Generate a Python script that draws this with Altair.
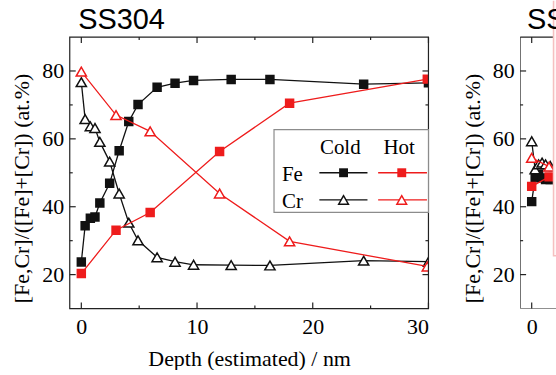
import altair as alt
import pandas as pd

# ---------------- data: SS304 panel ----------------
cold_depth = [0, 0.33, 0.78, 1.18, 1.6, 2.45, 3.27, 4.1, 4.9, 6.55, 8.1, 9.7, 12.95, 16.3, 24.4, 30.0]
cold_fe = [23.7, 34.4, 36.6, 37.0, 41.1, 46.9, 56.5, 65.1, 70.1, 75.2, 76.4, 77.2, 77.5, 77.5, 76.1, 76.5]
cold_cr = [76.7, 65.8, 63.7, 63.2, 59.1, 53.3, 43.9, 35.3, 30.1, 25.1, 23.8, 22.9, 22.8, 22.7, 24.1, 23.8]

hot_depth = [0, 3.0, 5.95, 11.95, 18.0, 29.9]
hot_fe = [20.3, 33.1, 38.3, 56.3, 70.5, 77.6]
hot_cr = [79.8, 67.0, 62.2, 43.9, 29.8, 22.4]

# ---------------- data: second panel (only its left edge is visible) ----------------
p2_cold_depth = [0, 0.3, 0.6, 0.9, 1.2, 1.6, 2.0]
p2_cold_fe = [41.5, 48.5, 49.5, 48.5, 48.0, 48.0, 48.0]
p2_cold_cr = [59.3, 51.0, 52.5, 53.0, 52.5, 52.0, 52.0]
p2_hot_depth = [0, 1.5, 3.0]
p2_hot_fe = [46.0, 48.8, 49.0]
p2_hot_cr = [54.4, 51.8, 51.0]

# ---------------- ticks / labels ----------------
x_major = [0, 10, 20, 30]
x_minor = [5, 15, 25]
y_major = [20, 40, 60, 80]
y_minor = [30, 50, 70]
y_title = "[Fe,Cr]/([Fe]+[Cr]) (at.%)"
x_title = "Depth (estimated) / nm"

T = 36.5          # frame top (px) inside each panel
HP = 309          # panel height (frame bottom)
W1 = 360          # SS304 frame width
W2 = 36           # visible part of second panel
PPU = (HP - T) / 80.0
YTOP = 90 + T / PPU

SERIF = "Liberation Serif"
SANS = "Liberation Sans"
RED = "#ee1c1c"
BLACK = "#111111"
FRAME = "#222222"

yscale = alt.Scale(domain=[10, YTOP], nice=False, zero=False)


def make_x_axis(values, title):
    kw = dict(values=values, format="d", grid=False, domain=False, tickSize=0, labelPadding=8,
              titlePadding=11, labelFont=SERIF, titleFont=SERIF, labelFontSize=22, titleFontSize=22,
              titleFontWeight="normal", labelColor="black", titleColor="black")
    kw["title"] = title
    return alt.Axis(**kw)


y_axis = alt.Axis(values=y_major, format="d", title=y_title, grid=False, domain=False, tickSize=0,
                  labelPadding=6, titlePadding=8, titleY=188, labelFont=SERIF, titleFont=SERIF,
                  labelFontSize=22, titleFontSize=22, titleFontWeight="normal",
                  labelColor="black", titleColor="black")

one = pd.DataFrame({"a": [1]})


def panel(xdom, xvals, xtitle, width, series_list, right_frame, extra_front, title_text, title_dx):
    xscale = alt.Scale(domain=xdom, nice=False, zero=False)
    x_axis = make_x_axis(xvals, xtitle)

    def X(field):
        return alt.X(f"{field}:Q", scale=xscale, axis=x_axis)

    def Y(field):
        return alt.Y(f"{field}:Q", scale=yscale, axis=y_axis)

    layers = []
    # data series
    for depth, values, color, kind in series_list:
        df = pd.DataFrame({"depth": depth, "value": values})
        layers.append(alt.Chart(df).mark_line(color=color, strokeWidth=1.3, clip=True).encode(
            x=X("depth"), y=Y("value")))
        if kind == "square":
            layers.append(alt.Chart(df).mark_point(shape="square", filled=True, color=color, size=90,
                                                   opacity=1, clip=True).encode(x=X("depth"), y=Y("value")))
        else:
            layers.append(alt.Chart(df).mark_point(shape="triangle-up", filled=True, fill="white",
                                                   stroke=color, strokeWidth=1.5, size=105, opacity=1,
                                                   clip=True).encode(x=X("depth"), y=Y("value")))
    # frame
    if right_frame:
        layers.append(alt.Chart(one).mark_rect(fill="transparent", stroke=FRAME, strokeWidth=1.2).encode(
            x=alt.value(0), x2=alt.value(width), y=alt.value(T), y2=alt.value(HP)))
    else:
        for enc in (dict(x=alt.value(0), y=alt.value(T), y2=alt.value(HP)),
                    dict(x=alt.value(0), x2=alt.value(width), y=alt.value(T)),
                    dict(x=alt.value(0), x2=alt.value(width), y=alt.value(HP))):
            layers.append(alt.Chart(one).mark_rule(color=FRAME, strokeWidth=1.2, clip=True).encode(**enc))
    # inward ticks
    for vals, L in ((x_major, 6), (x_minor, 3)):
        d = pd.DataFrame({"t": [v for v in vals if xdom[0] <= v <= xdom[1]]})
        if len(d) == 0:
            continue
        layers.append(alt.Chart(d).mark_rule(color=FRAME, strokeWidth=1.2).encode(
            x=X("t"), y=alt.value(HP), y2=alt.value(HP - L)))
        layers.append(alt.Chart(d).mark_rule(color=FRAME, strokeWidth=1.2).encode(
            x=X("t"), y=alt.value(T), y2=alt.value(T + L)))
    for vals, L in ((y_major, 6), (y_minor, 3)):
        d = pd.DataFrame({"t": vals})
        layers.append(alt.Chart(d).mark_rule(color=FRAME, strokeWidth=1.2).encode(
            y=Y("t"), x=alt.value(0), x2=alt.value(L)))
        if right_frame:
            layers.append(alt.Chart(d).mark_rule(color=FRAME, strokeWidth=1.2).encode(
                y=Y("t"), x=alt.value(width), x2=alt.value(width - L)))
    layers += extra_front
    # panel title
    layers.append(alt.Chart(one).mark_text(text=title_text, font=SANS, fontSize=29, color="black",
                                           align="left", baseline="alphabetic", clip=True).encode(
        x=alt.value(title_dx), y=alt.value(28)))
    return alt.layer(*layers).properties(width=width, height=HP)


def legend_layers():
    out = [alt.Chart(one).mark_rect(fill="white", stroke="#8c8c8c", strokeWidth=1.2).encode(
        x=alt.value(205), x2=alt.value(W1), y=alt.value(T + 93), y2=alt.value(T + 176))]
    for txt, x, y, al in (("Cold", 271.5, 117, "center"), ("Hot", 330.5, 117, "center"),
                          ("Fe", 213, 144.5, "left"), ("Cr", 213, 172, "left")):
        out.append(alt.Chart(one).mark_text(text=txt, font=SERIF, fontSize=21, color="black",
                                            align=al, baseline="alphabetic").encode(
            x=alt.value(x), y=alt.value(T + y)))
    for y, kind in ((136.2, "square"), (163.5, "triangle")):
        for x1, x2, xm, color in ((250.5, 298.8, 274.8, BLACK), (309.5, 358.5, 333.2, RED)):
            out.append(alt.Chart(one).mark_rule(color=color, strokeWidth=1.3).encode(
                x=alt.value(x1), x2=alt.value(x2), y=alt.value(T + y)))
            if kind == "square":
                out.append(alt.Chart(one).mark_point(shape="square", filled=True, color=color, size=80,
                                                     opacity=1).encode(x=alt.value(xm), y=alt.value(T + y)))
            else:
                out.append(alt.Chart(one).mark_point(shape="triangle-up", filled=True, fill="white",
                                                     stroke=color, strokeWidth=1.5, size=95,
                                                     opacity=1).encode(x=alt.value(xm), y=alt.value(T + y)))
    return out


left = panel([-1, 30], x_major, x_title, W1,
             [(cold_depth, cold_fe, BLACK, "square"), (cold_depth, cold_cr, BLACK, "triangle"),
              (hot_depth, hot_fe, RED, "square"), (hot_depth, hot_cr, RED, "triangle")],
             True, legend_layers(), "SS304", 8.5)

pink = alt.Chart(one).mark_rect(fill="#fff6f6", stroke="#f5c0c0", strokeWidth=1.5, clip=True).encode(
    x=alt.value(33.5), x2=alt.value(W2 + 10), y=alt.value(-5), y2=alt.value(256))
right = panel([-1, -1 + W2 * 31.0 / W1], [0], "", W2,
              [(p2_cold_depth, p2_cold_fe, BLACK, "square"), (p2_cold_depth, p2_cold_cr, BLACK, "triangle"),
               (p2_hot_depth, p2_hot_fe, RED, "square"), (p2_hot_depth, p2_hot_cr, RED, "triangle")],
              False, [pink], "SS316", 7)

chart = alt.hconcat(left, right, spacing=32).configure_view(
    strokeWidth=0
).configure_axis(
    labelFont=SERIF, titleFont=SERIF
).properties(
    padding={"left": 11, "top": 0, "right": 0, "bottom": 0},
    background="white",
)

chart.save("out.html", embed_options={"renderer": "svg", "actions": False})
